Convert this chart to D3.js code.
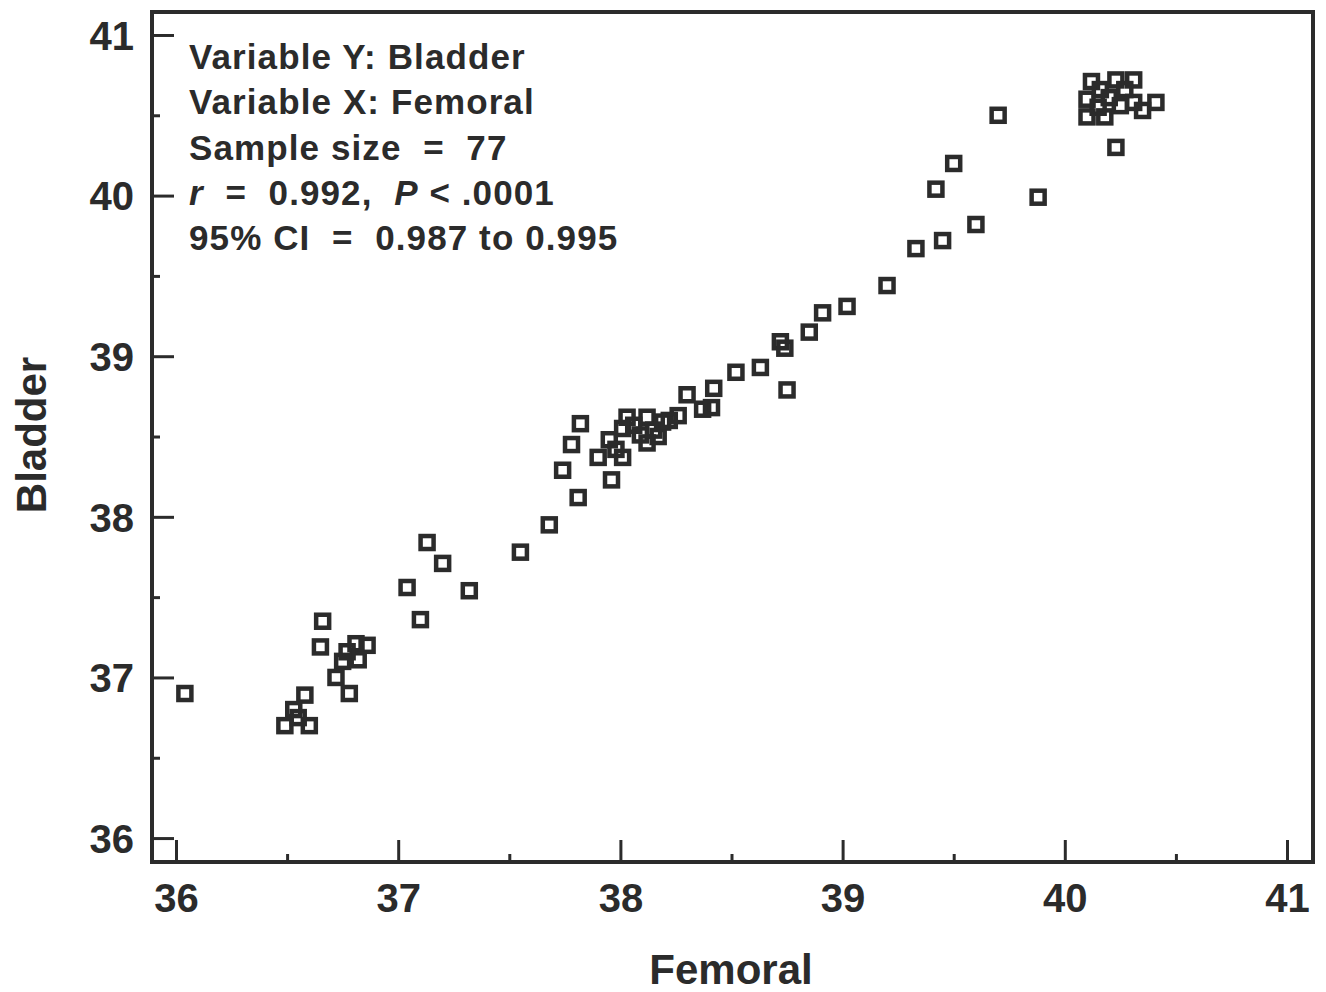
<!DOCTYPE html>
<html>
<head>
<meta charset="utf-8">
<script src="https://cdn.jsdelivr.net/npm/d3@7"></script>
<style>
  body { margin: 0; background: #fff; }
  text { font-family: "Liberation Sans", Arial, sans-serif; font-weight: bold; fill: #2b2b2b; }
  .stats text { white-space: pre; }
</style>
</head>
<body>
<div id="container"></div>
<script>
// Femoral (x) vs Bladder (y) readings
const femoral = [
  36.04, 36.66, 36.65, 36.81, 36.86, 36.82, 36.75, 36.72, 36.78, 36.58, 36.53, 36.49, 36.60, 36.77, 36.55,
  37.04, 37.10, 37.13, 37.20, 37.32, 37.55, 37.68,
  37.74, 37.78, 37.81, 37.82, 37.90, 37.95, 37.96, 38.01, 38.01, 38.03, 38.09, 38.12, 38.12, 38.15, 38.19, 38.26,
  38.06, 38.17, 38.22, 37.98,
  38.30, 38.37, 38.41, 38.42, 38.52, 38.63, 38.72, 38.74, 38.75, 38.85, 38.91, 39.02, 39.20, 39.33, 39.45, 39.60,
  39.42, 39.50, 39.70, 39.88,
  40.12, 40.23, 40.31, 40.10, 40.20, 40.10, 40.18, 40.31, 40.35, 40.41, 40.23, 40.16, 40.27, 40.15, 40.25
];
const bladder = [
  36.90, 37.35, 37.19, 37.21, 37.20, 37.11, 37.10, 37.00, 36.90, 36.89, 36.80, 36.70, 36.70, 37.16, 36.75,
  37.56, 37.36, 37.84, 37.71, 37.54, 37.78, 37.95,
  38.29, 38.45, 38.12, 38.58, 38.37, 38.48, 38.23, 38.37, 38.55, 38.62, 38.51, 38.62, 38.46, 38.54, 38.59, 38.63,
  38.57, 38.50, 38.60, 38.42,
  38.76, 38.67, 38.68, 38.80, 38.90, 38.93, 39.09, 39.05, 38.79, 39.15, 39.27, 39.31, 39.44, 39.67, 39.72, 39.82,
  40.04, 40.20, 40.50, 39.99,
  40.71, 40.72, 40.72, 40.60, 40.61, 40.49, 40.49, 40.58, 40.53, 40.58, 40.30, 40.66, 40.66, 40.55, 40.56
];

const majorTicks = [36, 37, 38, 39, 40, 41];
const minorTicks = [36.5, 37.5, 38.5, 39.5, 40.5];

const statLines = [
  "Variable Y: Bladder",
  "Variable X: Femoral",
  "Sample size  =  77",
  null, // r line, built with italics below
  "95% CI  =  0.987 to 0.995"
];

const width = 1326;
const height = 992;
const plotLeft = 152, plotRight = 1313, plotTop = 12, plotBottom = 862;

const svg = d3.select('#container')
  .append('svg')
  .attr('width', width)
  .attr('height', height);

const x = d3.scaleLinear().domain([35.892, 41.117]).range([plotLeft, plotRight]);
const y = d3.scaleLinear().domain([35.851, 41.143]).range([plotBottom, plotTop]);

const ink = '#2b2b2b';

// major + minor ticks (inward)
const xMajor = svg.append('g')
  .attr('transform', `translate(0,${plotBottom})`)
  .call(d3.axisBottom(x).tickValues(majorTicks).tickSize(-22).tickPadding(42).tickFormat(d3.format('d')));
const xMinor = svg.append('g')
  .attr('transform', `translate(0,${plotBottom})`)
  .call(d3.axisBottom(x).tickValues(minorTicks).tickSize(-8).tickFormat(''));
const yMajor = svg.append('g')
  .attr('transform', `translate(${plotLeft},0)`)
  .call(d3.axisLeft(y).tickValues(majorTicks).tickSize(-22).tickPadding(18).tickFormat(d3.format('d')));
const yMinor = svg.append('g')
  .attr('transform', `translate(${plotLeft},0)`)
  .call(d3.axisLeft(y).tickValues(minorTicks).tickSize(-8).tickFormat(''));

[xMajor, xMinor, yMajor, yMinor].forEach(g => {
  g.select('.domain').remove();
  g.selectAll('line').attr('stroke', ink).attr('stroke-width', 3);
  g.selectAll('text').style('font-size', '40px').attr('fill', ink);
});
xMajor.selectAll('text').attr('dy', '0.2em');
yMajor.selectAll('text').attr('dy', '0.36em');

// frame
svg.append('rect')
  .attr('x', plotLeft).attr('y', plotTop)
  .attr('width', plotRight - plotLeft).attr('height', plotBottom - plotTop)
  .attr('fill', 'none')
  .attr('stroke', ink)
  .attr('stroke-width', 4);

// points
svg.selectAll('.point')
  .data(d3.zip(femoral, bladder))
  .enter().append('rect')
  .attr('class', 'point')
  .attr('x', d => x(d[0]) - 6.5)
  .attr('y', d => y(d[1]) - 6.5)
  .attr('width', 13)
  .attr('height', 13)
  .attr('fill', 'none')
  .attr('stroke', ink)
  .attr('stroke-width', 4.5);

// stats box text
const stats = svg.append('g').attr('class', 'stats');
statLines.forEach((s, i) => {
  const t = stats.append('text')
    .attr('x', 189)
    .attr('y', 69 + i * 45.3)
    .style('font-size', '35px')
    .style('letter-spacing', '1.1px')
    .attr('fill', '#333');
  if (s !== null) {
    t.text(s);
  } else {
    t.append('tspan').style('font-style', 'italic').text('r');
    t.append('tspan').text('  =  0.992,  ');
    t.append('tspan').style('font-style', 'italic').text('P');
    t.append('tspan').text(' < .0001');
  }
});

// axis titles
svg.append('text')
  .attr('x', 731)
  .attr('y', 984)
  .attr('text-anchor', 'middle')
  .style('font-size', '42px')
  .text('Femoral');

svg.append('text')
  .attr('transform', 'translate(46,435) rotate(-90)')
  .attr('text-anchor', 'middle')
  .style('font-size', '42px')
  .text('Bladder');
</script>
</body>
</html>
